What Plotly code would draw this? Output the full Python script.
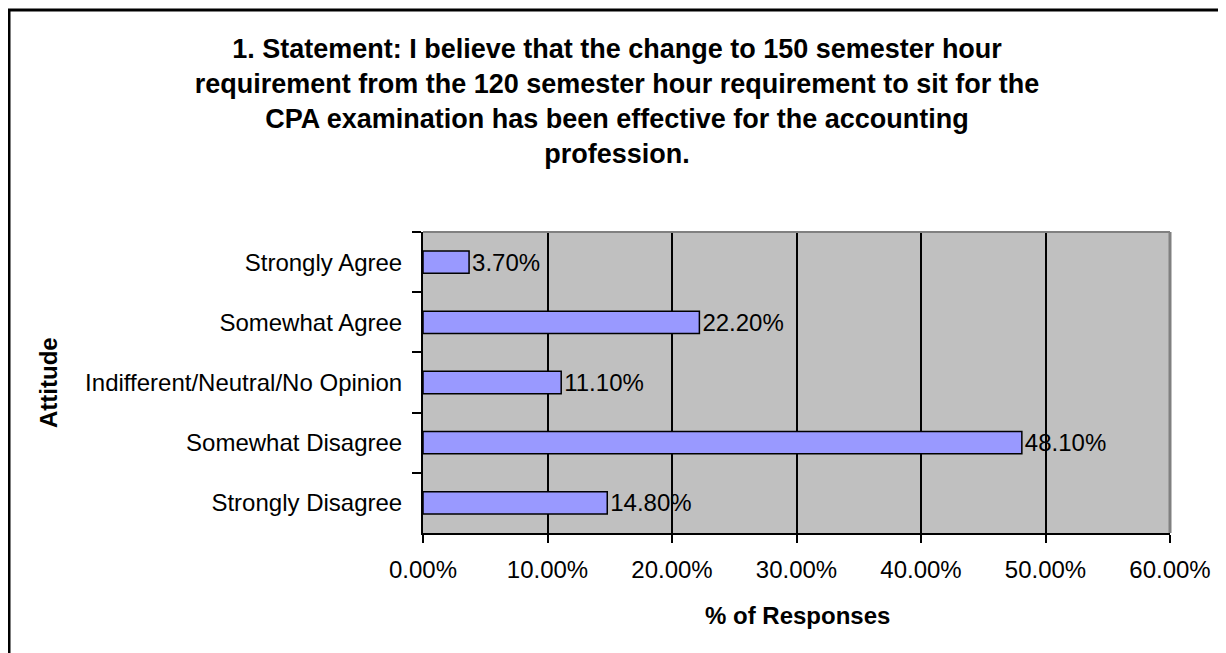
import plotly.graph_objects as go

categories = ["Strongly Agree", "Somewhat Agree", "Indifferent/Neutral/No Opinion",
              "Somewhat Disagree", "Strongly Disagree"]
values = [3.70, 22.20, 11.10, 48.10, 14.80]
x_ticks = [0, 10, 20, 30, 40, 50, 60]
x_tick_labels = ["0.00%", "10.00%", "20.00%", "30.00%", "40.00%", "50.00%", "60.00%"]

title_text = ("1. Statement: I believe that the change to 150 semester hour<br>"
              "requirement from the 120 semester hour requirement to sit for the<br>"
              "CPA examination has been effective for the accounting<br>"
              "profession.")

OFF = 8  # page body margin
W, H = 1226 - OFF, 653 - OFF
# plot area in window pixels
L, R, T, B = 423, 1170, 232, 533
pw, ph = R - L, B - T

def px_x(p):
    return (p - L) / pw

def px_y(p):
    return (B - p) / ph

FONT = "Arial, Liberation Sans, sans-serif"

fig = go.Figure(go.Bar(
    x=values, y=categories, orientation="h",
    marker=dict(color="#9999FF", line=dict(color="black", width=1.5)),
    text=[f"{v:.2f}%" for v in values],
    textposition="outside", constraintext="none", cliponaxis=False,
    textfont=dict(family=FONT, size=24, color="black"),
    width=0.37,
))

fig.update_layout(
    width=W, height=H,
    margin=dict(l=L - OFF, r=(W + OFF) - R, t=T - OFF, b=(H + OFF) - B),
    paper_bgcolor="white", plot_bgcolor="#C0C0C0",
    showlegend=False,
    font=dict(family=FONT, size=24, color="black"),
    title=dict(text=title_text, x=0.5, xref="container", xanchor="center",
               y=1 - 50 / H, yref="container", yanchor="top",
               font=dict(family=FONT, size=27, color="black", weight="bold")),
)

fig.update_xaxes(
    range=[0, 60], tickvals=x_ticks, ticktext=x_tick_labels,
    showgrid=True, gridcolor="black", gridwidth=1.5,
    showline=True, linecolor="black", linewidth=2,
    ticks="outside", ticklen=8, tickcolor="black", tickwidth=1.5,
    ticklabelstandoff=6,
    tickfont=dict(family=FONT, size=24, color="black"),
    zeroline=False, fixedrange=True,
)
fig.update_yaxes(
    categoryorder="array", categoryarray=categories, autorange="reversed",
    showgrid=False, showline=True, linecolor="black", linewidth=2,
    ticks="outside", ticklen=9, tickcolor="black", tickwidth=1.5,
    tickson="boundaries", ticklabelstandoff=14,
    tickfont=dict(family=FONT, size=24, color="black"),
    zeroline=False, fixedrange=True,
)

shapes = [
    # gray top and right border of plot area
    dict(type="line", xref="paper", yref="paper", x0=0, x1=1, y0=1, y1=1,
         line=dict(color="#808080", width=2)),
    dict(type="line", xref="paper", yref="paper", x0=1, x1=1, y0=0, y1=1,
         line=dict(color="#808080", width=3)),
    # outer chart border
    dict(type="rect", xref="paper", yref="paper",
         x0=px_x(9), x1=px_x(1226 + 20), y0=px_y(653 + 20), y1=px_y(10),
         line=dict(color="black", width=3), fillcolor="rgba(0,0,0,0)"),
]
fig.update_layout(shapes=shapes)

fig.add_annotation(text="<b>Attitude</b>", xref="paper", yref="paper",
                   x=px_x(48), y=px_y(383), textangle=-90, showarrow=False,
                   xanchor="center", yanchor="middle",
                   font=dict(family=FONT, size=24, color="black"))
fig.add_annotation(text="<b>% of Responses</b>", xref="paper", yref="paper",
                   x=px_x(797), y=px_y(615), showarrow=False,
                   xanchor="center", yanchor="middle",
                   font=dict(family=FONT, size=24, color="black"))

fig.write_html("out.html")
